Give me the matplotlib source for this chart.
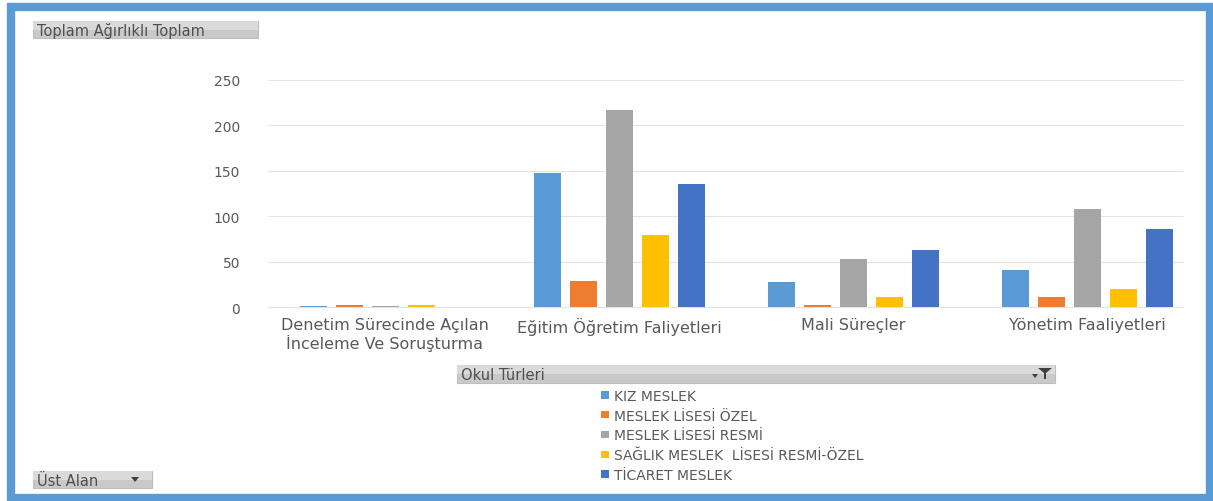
import matplotlib
matplotlib.use("Agg")
import matplotlib.pyplot as plt
from matplotlib.patches import Rectangle, Polygon
import numpy as np

categories = ["Denetim Sürecinde Açılan\nİnceleme Ve Soruşturma",
              "Eğitim Öğretim Faliyetleri",
              "Mali Süreçler",
              "Yönetim Faaliyetleri"]
series_names = ["KIZ MESLEK", "MESLEK LİSESİ ÖZEL", "MESLEK LİSESİ RESMİ",
                "SAĞLIK MESLEK  LİSESİ RESMİ-ÖZEL", "TİCARET MESLEK"]
kiz = [1, 148, 28, 41]
ozel = [2, 29, 2, 11]
resmi = [1, 217, 53, 108]
saglik = [2, 79, 11, 20]
ticaret = [0, 135, 63, 86]
yticks = [0, 50, 100, 150, 200, 250]
colors = ["#5B9BD5", "#ED7D31", "#A5A5A5", "#FFC000", "#4472C4"]

W, H = 1213, 502
plt.rcParams['font.family'] = ['DejaVu Sans']
fig = plt.figure(figsize=(W / 100, H / 100), dpi=100)
fig.patch.set_facecolor("white")

def fx(px):
    return px / W

def fy(py):
    return 1 - py / H

# outer blue frame
fig.patches.append(Rectangle((fx(11), fy(499)), fx(1210) - fx(11), fy(8) - fy(499),
                             transform=fig.transFigure, fill=False,
                             edgecolor="#5B9BD5", linewidth=6))

AX_L, AX_R = 268, 1204
ax = fig.add_axes([fx(AX_L), fy(308), fx(AX_R) - fx(AX_L), fy(81) - fy(308)])
x = np.arange(len(categories))
data = [kiz, ozel, resmi, saglik, ticaret]
band = (AX_R - AX_L) / 4
bw = 27 / band
step = 36 / band
handles = []
for i, (vals, c, name) in enumerate(zip(data, colors, series_names)):
    b = ax.bar(x + (i - 2) * step, vals, width=bw, color=c, label=name, zorder=3)
    handles.append(b)
ax.set_xlim(-0.5, 3.5)
ax.set_ylim(0, 250)
ax.set_yticks(yticks)
ax.set_xticks(x)
ax.set_xticklabels(categories, fontsize=11.5, color="#595959", linespacing=1.15)
ax.tick_params(axis="y", length=0, pad=20, labelsize=10, labelcolor="#595959")
ax.tick_params(axis="x", length=0, pad=7)
for s in ax.spines.values():
    s.set_visible(False)
grid_end = (1183 - AX_L) / band - 0.5
ax.hlines(yticks, -0.5, grid_end, color="#E3E3E3", linewidth=0.8, zorder=0, clip_on=False)
ax.set_facecolor("none")

def button(x0, y0, x1, y1, text, fs=10.5):
    fig.patches.append(Rectangle((fx(x0), fy(y1)), fx(x1) - fx(x0), fy(y0) - fy(y1),
                                 transform=fig.transFigure, facecolor="#C9C9C9",
                                 edgecolor="#BDBDBD", linewidth=0.8))
    fig.patches.append(Rectangle((fx(x0), fy((y0 + y1) / 2)), fx(x1) - fx(x0), fy(y0) - fy((y0 + y1) / 2),
                                 transform=fig.transFigure, facecolor="#DADADA",
                                 edgecolor="none"))
    fig.text(fx(x0 + 4), fy((y0 + y1) / 2 + 0.5), text, fontsize=fs, color="#4F4F4F",
             va="center", ha="left")

button(33, 22, 258, 39, "Toplam Ağırlıklı Toplam")
button(457, 366, 1055, 384, "Okul Türleri")
button(33, 472, 152, 489, "Üst Alan")

# dropdown arrow on Üst Alan
fig.patches.append(Polygon([(fx(131), fy(478)), (fx(139), fy(478)), (fx(135), fy(483))],
                           closed=True, transform=fig.transFigure, facecolor="#404040"))
# filter icon on Okul Türleri
fig.patches.append(Polygon([(fx(1038), fy(369)), (fx(1052), fy(369)), (fx(1046), fy(374)),
                            (fx(1046), fy(380)), (fx(1044), fy(380)), (fx(1044), fy(374))],
                           closed=True, transform=fig.transFigure, facecolor="#404040"))
fig.patches.append(Polygon([(fx(1032), fy(375)), (fx(1038), fy(375)), (fx(1035), fy(379))],
                           closed=True, transform=fig.transFigure, facecolor="#404040"))

leg = fig.legend(handles=handles, labels=series_names, loc="upper left",
                 bbox_to_anchor=(fx(591), fy(380)), frameon=False, fontsize=10,
                 labelcolor="#595959", handlelength=0.6, handleheight=0.45,
                 handletextpad=0.35, labelspacing=0.42, borderpad=0.2)

fig.savefig("out.png", dpi=100, facecolor="white")
